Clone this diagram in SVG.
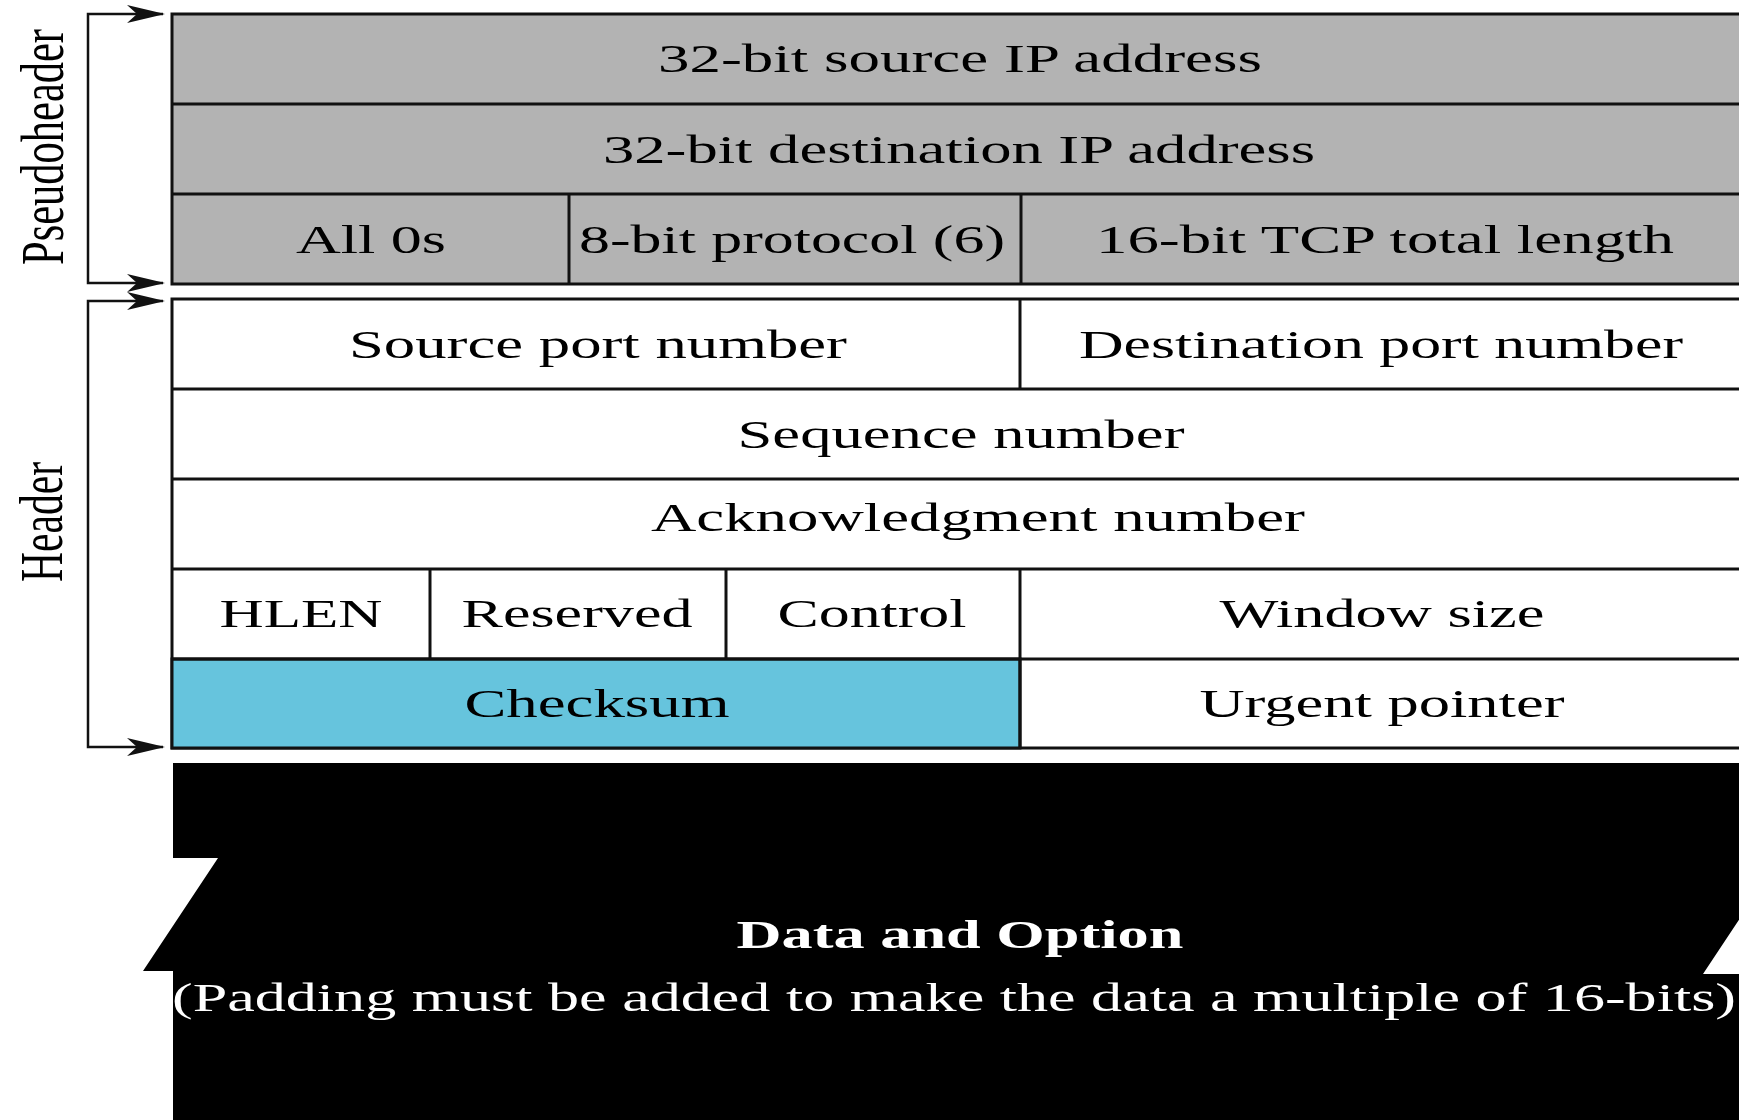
<svg xmlns="http://www.w3.org/2000/svg" width="1739" height="1120" viewBox="0 0 1739 1120">
  <style>
    .lbl { font-family: "Liberation Serif", "Times New Roman", serif; font-size: 41px; fill: #000; text-anchor: middle; }
    .inv { fill: #fff; }
    .bold { font-weight: bold; }
    .pseudo { fill: #b3b3b3; stroke: #111; stroke-width: 3; }
    .plain { fill: #fff; stroke: #111; stroke-width: 3; }
    .sum { fill: #66c4dd; stroke: #111; stroke-width: 3; }
    .rule { stroke: #111; stroke-width: 3; fill: none; }
    .brace { stroke: #111; stroke-width: 2.5; fill: none; marker-start: url(#arr-s); marker-end: url(#arr); }
  </style>
  <defs>
    <marker id="arr" viewBox="0 0 38 18" refX="36" refY="9" markerWidth="38" markerHeight="18" markerUnits="userSpaceOnUse" orient="auto">
      <path d="M0,0 L38,9 L0,18 L10,9 Z" fill="#111"/>
    </marker>
    <marker id="arr-s" viewBox="0 0 38 18" refX="36" refY="9" markerWidth="38" markerHeight="18" markerUnits="userSpaceOnUse" orient="auto-start-reverse">
      <path d="M0,0 L38,9 L0,18 L10,9 Z" fill="#111"/>
    </marker>
  </defs>

  <rect width="1739" height="1120" fill="#fff"/>

  <!-- Pseudoheader block -->
  <g id="pseudoheader">
    <rect class="pseudo" x="172" y="14" width="1576" height="270"/>
    <line class="rule" x1="172" y1="104" x2="1748" y2="104"/>
    <line class="rule" x1="172" y1="194" x2="1748" y2="194"/>
    <line class="rule" x1="569" y1="194" x2="569" y2="284"/>
    <line class="rule" x1="1021" y1="194" x2="1021" y2="284"/>
  </g>
  <g id="src-ip"><text class="lbl" x="960" y="72" textLength="604" lengthAdjust="spacingAndGlyphs">32-bit source IP address</text></g>
  <g id="dst-ip"><text class="lbl" x="959" y="163" textLength="712" lengthAdjust="spacingAndGlyphs">32-bit destination IP address</text></g>
  <g id="zeros"><text class="lbl" x="371" y="253" textLength="150" lengthAdjust="spacingAndGlyphs">All 0s</text></g>
  <g id="protocol"><text class="lbl" x="792" y="253" textLength="426" lengthAdjust="spacingAndGlyphs">8-bit protocol (6)</text></g>
  <g id="tcp-length"><text class="lbl" x="1385" y="253" textLength="578" lengthAdjust="spacingAndGlyphs">16-bit TCP total length</text></g>

  <!-- TCP header block -->
  <g id="header">
    <rect class="plain" x="172" y="299" width="1576" height="449"/>
    <rect class="sum" x="172" y="659" width="848" height="89"/>
    <line class="rule" x1="172" y1="389" x2="1748" y2="389"/>
    <line class="rule" x1="172" y1="479" x2="1748" y2="479"/>
    <line class="rule" x1="172" y1="569" x2="1748" y2="569"/>
    <line class="rule" x1="172" y1="659" x2="1748" y2="659"/>
    <line class="rule" x1="1020" y1="299" x2="1020" y2="389"/>
    <line class="rule" x1="430" y1="569" x2="430" y2="659"/>
    <line class="rule" x1="726" y1="569" x2="726" y2="659"/>
    <line class="rule" x1="1020" y1="569" x2="1020" y2="748"/>
  </g>
  <g id="src-port"><text class="lbl" x="598" y="358" textLength="498" lengthAdjust="spacingAndGlyphs">Source port number</text></g>
  <g id="dst-port"><text class="lbl" x="1381" y="358" textLength="604" lengthAdjust="spacingAndGlyphs">Destination port number</text></g>
  <g id="seq"><text class="lbl" x="961" y="448" textLength="447" lengthAdjust="spacingAndGlyphs">Sequence number</text></g>
  <g id="ack"><text class="lbl" x="978" y="531" textLength="654" lengthAdjust="spacingAndGlyphs">Acknowledgment number</text></g>
  <g id="hlen"><text class="lbl" x="301" y="627" textLength="163" lengthAdjust="spacingAndGlyphs">HLEN</text></g>
  <g id="reserved"><text class="lbl" x="577" y="627" textLength="231" lengthAdjust="spacingAndGlyphs">Reserved</text></g>
  <g id="control"><text class="lbl" x="872" y="627" textLength="189" lengthAdjust="spacingAndGlyphs">Control</text></g>
  <g id="window"><text class="lbl" x="1382" y="627" textLength="325" lengthAdjust="spacingAndGlyphs">Window size</text></g>
  <g id="checksum"><text class="lbl" x="597" y="717" textLength="265" lengthAdjust="spacingAndGlyphs">Checksum</text></g>
  <g id="urgent"><text class="lbl" x="1382" y="717" textLength="365" lengthAdjust="spacingAndGlyphs">Urgent pointer</text></g>

  <!-- Data area with torn edges -->
  <g id="data">
    <polygon fill="#000" points="173,763 1748,763 1748,861 1778,861 1703,974 1748,974 1748,1130 173,1130 173,971 143,971 218,858 173,858"/>
    <text class="lbl inv bold" x="960" y="948" textLength="447" lengthAdjust="spacingAndGlyphs">Data and Option</text>
    <text class="lbl inv" x="954" y="1011" textLength="1564" lengthAdjust="spacingAndGlyphs">(Padding must be added to make the data a multiple of 16-bits)</text>
  </g>

  <!-- Side labels -->
  <g id="pseudoheader-label">
    <text class="lbl" transform="translate(63,147) scale(1.5,1) rotate(-90)" x="0" y="0" textLength="236" lengthAdjust="spacingAndGlyphs">Pseudoheader</text>
  </g>
  <g id="header-label">
    <text class="lbl" transform="translate(62,522) scale(1.5,1) rotate(-90)" x="0" y="0" textLength="120" lengthAdjust="spacingAndGlyphs">Header</text>
  </g>

  <!-- Brackets -->
  <g id="connectors">
    <path class="brace" d="M163,14 H88 V283 H163"/>
    <path class="brace" d="M163,301 H88 V747 H163"/>
  </g>
</svg>
